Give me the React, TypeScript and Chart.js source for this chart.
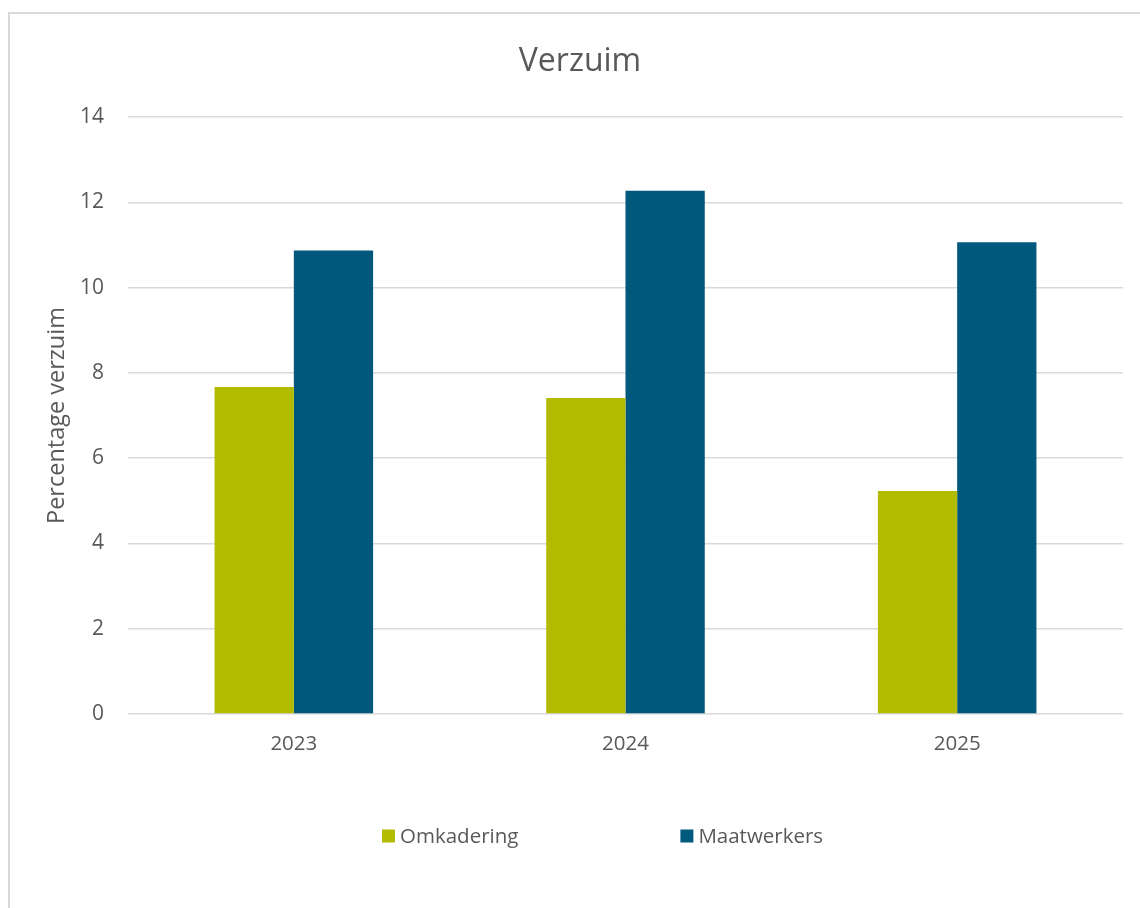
import React, { useEffect, useRef } from "react";
import { Chart, registerables } from "chart.js";

Chart.register(...registerables);

const categories = ["2023", "2024", "2025"];
const omkadering = [7.67, 7.41, 5.23];
const maatwerkers = [10.87, 12.27, 11.06];
const seriesLabels = ["Omkadering", "Maatwerkers"];
const seriesColors = ["#b2bb00", "#00587c"];
const chartTitle = "Verzuim";
const yAxisTitle = "Percentage verzuim";

const FONT = "'Open Sans', 'Noto Sans', sans-serif";
const TEXT = "#595959";

const legendPlugin = {
  id: "customLegend",
  afterDraw(chart: any) {
    const ctx = chart.ctx;
    const ds = chart.data.datasets;
    ctx.save();
    ctx.font = `20.5px ${FONT}`;
    ctx.textBaseline = "middle";
    ctx.textAlign = "left";
    const box = 13;
    const textGap = 5;
    const itemGap = 162;
    const cy = 836;
    let x = 382;
    ds.forEach((d: any) => {
      ctx.fillStyle = d.backgroundColor;
      ctx.fillRect(x, cy - box / 2, box, box);
      ctx.fillStyle = TEXT;
      ctx.fillText(d.label, x + box + textGap, cy + 1);
      x += box + textGap + ctx.measureText(d.label).width + itemGap;
    });
    ctx.restore();
  },
};

export default function App() {
  const ref = useRef<HTMLCanvasElement | null>(null);
  useEffect(() => {
    if (!ref.current) return;
    const chart = new Chart(ref.current, {
      type: "bar",
      data: {
        labels: categories,
        datasets: [
          { label: seriesLabels[0], data: omkadering, backgroundColor: seriesColors[0] },
          { label: seriesLabels[1], data: maatwerkers, backgroundColor: seriesColors[1] },
        ],
      },
      options: {
        animation: false,
        responsive: false,
        maintainAspectRatio: false,
        layout: { padding: { left: 37, right: 17, top: 0, bottom: 0 } },
        datasets: { bar: { categoryPercentage: 0.478, barPercentage: 1 } },
        plugins: {
          legend: { display: false },
          tooltip: { enabled: false },
          title: {
            display: true,
            text: chartTitle,
            color: TEXT,
            font: { family: FONT, size: 32, weight: "normal" },
            padding: { top: 43, bottom: 35.6 },
          },
        },
        scales: {
          x: {
            grid: { display: false, drawTicks: false },
            border: { display: false },
            ticks: { color: TEXT, font: { family: FONT, size: 20.5 }, padding: 18 },
            afterFit: (s: any) => {
              s.height = 908 - 714;
            },
          },
          y: {
            min: 0,
            max: 14,
            ticks: { stepSize: 2, color: TEXT, font: { family: FONT, size: 21 }, padding: 24 },
            grid: { color: "#d9d9d9", lineWidth: 1.5, drawTicks: false },
            border: { display: false },
            title: {
              display: true,
              text: yAxisTitle,
              color: TEXT,
              font: { family: FONT, size: 23.5 },
              padding: { top: 6, bottom: 4 },
            },
            afterFit: (s: any) => {
              s.width = 91;
            },
          },
        },
      },
      plugins: [legendPlugin],
    });
    return () => chart.destroy();
  }, []);

  return (
    <div style={{ position: "fixed", left: 0, top: 0, width: 1140, height: 908, overflow: "hidden", background: "#fff" }}>
      <div
        style={{
          position: "absolute",
          left: 8,
          top: 12,
          width: 1300,
          height: 1100,
          border: "2px solid #dadada",
          boxSizing: "border-box",
        }}
      />
      <canvas
        ref={ref}
        width={1140}
        height={908}
        style={{ position: "absolute", left: 0, top: 0, width: 1140, height: 908 }}
      />
    </div>
  );
}
